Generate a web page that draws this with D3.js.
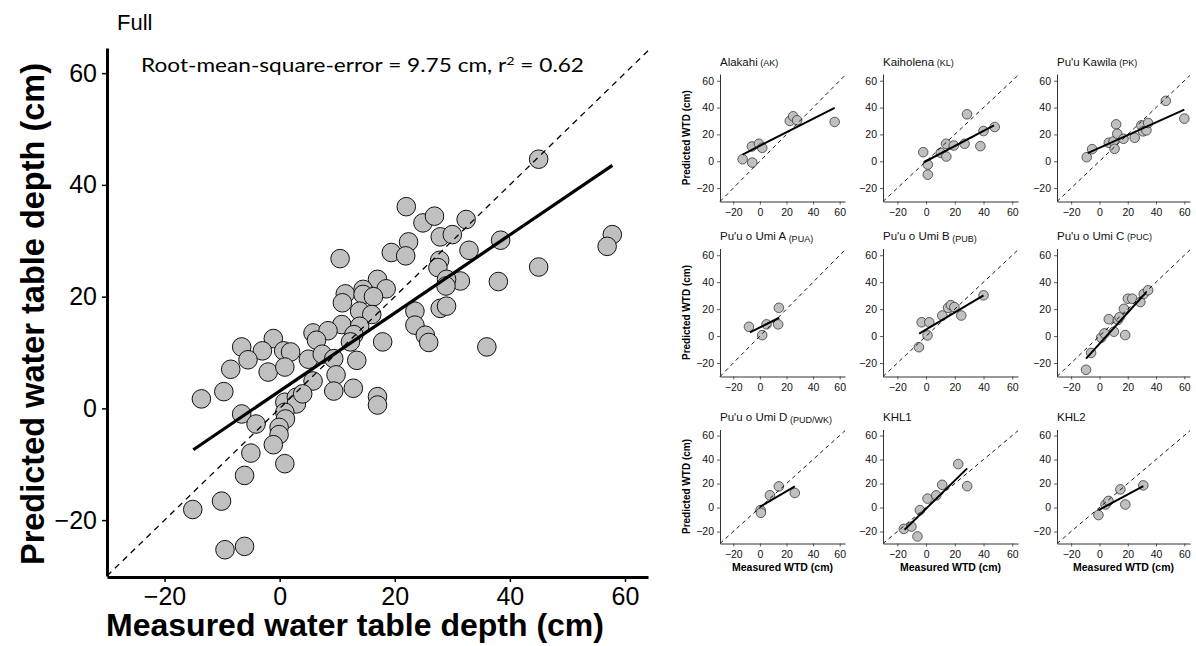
<!DOCTYPE html>
<html><head><meta charset="utf-8">
<script src="https://cdn.jsdelivr.net/npm/d3@7"></script>
<style>body{margin:0;background:#fff} svg{display:block}</style>
</head><body><svg id="c" width="1196" height="646"></svg>
<script>
// ---------- data ----------
const fullTicks = [-20, 0, 20, 40, 60];
const fullPoints = [
 [45.0,44.6],[22.0,36.1],[24.9,33.2],[26.9,34.4],[32.4,33.8],[27.9,30.7],[30.0,31.1],[22.4,29.8],
 [38.4,30.1],[57.8,31.1],[56.9,29.0],[10.5,26.8],[19.4,27.9],[21.9,27.3],[32.9,28.3],[27.8,26.5],
 [27.5,25.2],[45.0,25.3],[38.0,22.7],[31.4,22.8],[29.0,23.1],[28.9,21.9],[27.9,17.9],[29.0,18.3],
 [17.0,23.1],[14.5,21.3],[18.5,21.4],[11.4,20.5],[14.5,20.4],[16.3,20.0],[10.9,18.9],[13.9,17.4],
 [16.0,16.8],[23.5,17.4],[10.8,15.0],[23.5,14.9],[5.8,13.5],[8.4,13.9],[13.9,14.7],[12.9,13.2],
 [6.4,12.2],[12.3,11.9],[17.9,11.9],[25.3,13.1],[25.9,11.8],[36.0,11.0],[-6.6,11.0],[-1.1,12.5],
 [-3.0,10.3],[0.7,10.3],[1.9,10.1],[-5.5,8.7],[5.0,8.8],[7.4,9.7],[9.4,8.9],[13.4,8.6],
 [-8.5,7.0],[-2.0,6.5],[0.9,7.4],[5.8,4.9],[9.8,6.0],[9.4,3.1],[12.8,3.6],[-9.7,3.0],
 [-13.6,1.7],[17.0,2.1],[17.0,0.6],[0.9,1.1],[2.9,2.0],[2.9,0.8],[4.0,2.6],[0.9,-0.7],
 [1.0,-1.9],[-6.6,-1.0],[-4.1,-2.8],[-0.1,-3.4],[-0.1,-4.7],[-1.1,-6.5],[-5.0,-8.0],[0.9,-9.9],
 [-6.1,-12.0],[-10.1,-16.6],[-15.1,-18.1],[-9.5,-25.3],[-6.1,-24.7]
];
const fullFit = [[-15.0,-7.4],[57.8,43.5]];
const identityLine = [[-30,-30],[64,64]];

const panelTitles = ["Alakahi","Kaiholena","Pu'u Kawila","Pu'u o Umi A","Pu'u o Umi B","Pu'u o Umi C","Pu'u o Umi D","KHL1","KHL2"];
const panelCodes  = ["(AK)","(KL)","(PK)","(PUA)","(PUB)","(PUC)","(PUD/WK)","",""];
const panelTicks = [-20, 0, 20, 40, 60];

const akPoints = [[-13,1.5],[-6,11],[-5.75,-1],[-0.75,13],[1.75,10],[22.5,30],[25,33.5],[28,30.5],[56.25,29.25]];
const akFit = [[-13,5],[56.25,39.75]];
const klPoints = [[-2,6.75],[1.2,-2.5],[1.2,-10],[10.2,6.25],[13.9,13],[14.1,3.5],[19.3,11.75],[26.8,13],[28.5,35],[37.8,11.25],[40,22.5],[47.8,25.5]];
const klFit = [[-1.5,-0.75],[47.3,26.75]];
const pkPoints = [[-9,3],[-5.2,9],[6.6,13.75],[10,14.75],[10.7,9.25],[11.8,27.5],[12.6,20.5],[17,16.75],[24.9,17.5],[29.6,26.75],[30.8,22.25],[33.2,23],[34.4,28.5],[46.9,45],[60,31.75]];
const pkFit = [[-8.3,6],[60,38.5]];
const puaPoints = [[-8.25,6.9],[1.75,0.7],[5,8.7],[13.75,8.7],[14.25,21]];
const puaFit = [[-7.5,2.7],[14.5,13.6]];
const pubPoints = [[-5,-8.25],[-3.1,10.25],[1,0.5],[2.2,10.25],[11.3,15.25],[15.3,21],[17.3,23],[19.7,21.5],[24.5,15.25],[40,30.25]];
const pubFit = [[-4.8,1.75],[40,30.25]];
const pucPoints = [[-9.5,-25],[-5.9,-12.5],[1.2,-1.25],[3.6,2],[6.6,12.5],[10.2,3.25],[13,12],[14.2,14],[17.3,20.25],[18.2,0.75],[20.1,27.75],[23.2,27.75],[28.9,25.25],[31.3,31.25],[34.4,34]];
const pucFit = [[-9.5,-16.75],[33.2,32.7]];
const pudPoints = [[0.5,-2.2],[0.75,-4.4],[7.5,10.2],[14.25,17.6],[26.25,12.1]];
const pudFit = [[0,0.55],[26.25,17.6]];
const khl1Points = [[-15.5,-17.8],[-10.2,-15.9],[-6,-24.1],[-4.3,-2.2],[1,7.4],[7.1,10.1],[11.2,18.9],[22.4,36.2],[28.6,17.8]];
const khl1Fit = [[-15,-18.6],[28.6,32.6]];
const khl2Points = [[-0.7,-6.3],[4.3,2.5],[6.4,5.5],[14.8,15.1],[18.3,2.5],[31,18.4]];
const khl2Fit = [[-0.7,-2.2],[31,17.8]];

const panelPoints = [akPoints, klPoints, pkPoints, puaPoints, pubPoints, pucPoints, pudPoints, khl1Points, khl2Points];
const panelFits   = [akFit, klFit, pkFit, puaFit, pubFit, pucFit, pudFit, khl1Fit, khl2Fit];

// ---------- drawing ----------
const svg = d3.select("#c");
const FILL = "#c0c0c0";
const SANS = "'Liberation Sans', Arial, Helvetica, sans-serif";

// Main panel
{
  const x = d3.scaleLinear().domain([-30, 64]).range([107, 648]);
  const y = d3.scaleLinear().domain([-30, 64.5]).range([576, 48]);
  const g = svg.append("g");
  const line = d3.line().x(d => x(d[0])).y(d => y(d[1]));

  g.selectAll("circle").data(fullPoints).join("circle")
    .attr("cx", d => x(d[0])).attr("cy", d => y(d[1])).attr("r", 9.3)
    .attr("fill", FILL).attr("stroke", "#111").attr("stroke-width", 1);

  g.append("path").attr("d", line(identityLine)).attr("fill", "none")
    .attr("stroke", "#000").attr("stroke-width", 1.3).attr("stroke-dasharray", "6,5");
  g.append("path").attr("d", line(fullFit)).attr("fill", "none")
    .attr("stroke", "#000").attr("stroke-width", 3.2);

  const xa = g.append("g").attr("transform", "translate(0,577)")
    .call(d3.axisBottom(x).tickValues(fullTicks).tickSize(5).tickSizeOuter(0).tickPadding(5));
  const ya = g.append("g").attr("transform", "translate(107,0)")
    .call(d3.axisLeft(y).tickValues(fullTicks).tickSize(5).tickSizeOuter(0).tickPadding(5));
  [xa, ya].forEach(a => {
    a.select(".domain").attr("stroke-width", 3).attr("stroke", "#000");
    a.selectAll(".tick line").attr("stroke-width", 1.5);
    a.selectAll("text").attr("font-family", SANS).attr("font-size", 25).attr("fill", "#000");
  });

  svg.append("text").attr("x", 117).attr("y", 30).attr("font-family", SANS)
    .attr("font-size", 22).text("Full");

  const t = svg.append("text").attr("x", 141).attr("y", 72)
    .attr("font-family", "Lato, 'Open Sans', sans-serif").attr("font-size", 19)
    .attr("textLength", 443).attr("lengthAdjust", "spacingAndGlyphs");
  t.append("tspan").text("Root-mean-square-error = 9.75 cm, r");
  t.append("tspan").attr("font-size", 12).attr("dy", -7).text("2");
  t.append("tspan").attr("dy", 7).text(" = 0.62");

  svg.append("text").attr("x", 355).attr("y", 636).attr("text-anchor", "middle")
    .attr("font-family", SANS).attr("font-weight", "bold").attr("font-size", 32)
    .text("Measured water table depth (cm)");
  svg.append("text").attr("transform", "translate(44,314) rotate(-90)").attr("text-anchor", "middle")
    .attr("font-family", SANS).attr("font-weight", "bold").attr("font-size", 32.5)
    .text("Predicted water table depth (cm)");
}

// Small panels
const cols = [[720, 845], [883, 1018], [1057, 1190]];
const rows = [[74, 201.5], [248.5, 376.5], [429.5, 543.5]];
const codeDy = [0, 0, 0, 2, 2, 0, 2, 0, 0];

panelTitles.forEach((title, i) => {
  const c = cols[i % 3], r = rows[Math.floor(i / 3)];
  const x = d3.scaleLinear().domain([-30, 64]).range(c);
  const y = d3.scaleLinear().domain([-30, 65]).range([r[1], r[0]]);
  const g = svg.append("g");
  const line = d3.line().x(d => x(d[0])).y(d => y(d[1]));

  g.selectAll("circle").data(panelPoints[i]).join("circle")
    .attr("cx", d => x(d[0])).attr("cy", d => y(d[1])).attr("r", 4.8)
    .attr("fill", FILL).attr("stroke", "#222").attr("stroke-width", 0.7);
  g.append("path").attr("d", line(identityLine)).attr("fill", "none")
    .attr("stroke", "#000").attr("stroke-width", 0.9).attr("stroke-dasharray", "4,3.5");
  g.append("path").attr("d", line(panelFits[i])).attr("fill", "none")
    .attr("stroke", "#000").attr("stroke-width", 2);

  const xa = g.append("g").attr("transform", `translate(0,${r[1]})`)
    .call(d3.axisBottom(x).tickValues(panelTicks).tickSize(3).tickSizeOuter(0).tickPadding(4.5));
  const ya = g.append("g").attr("transform", `translate(${c[0]},0)`)
    .call(d3.axisLeft(y).tickValues(panelTicks).tickSize(3).tickSizeOuter(0).tickPadding(3));
  [xa, ya].forEach(a => {
    a.select(".domain").attr("stroke-width", 1).attr("stroke", "#333");
    a.selectAll(".tick line").attr("stroke", "#333").attr("stroke-width", 0.8);
    a.selectAll("text").attr("font-family", SANS).attr("font-size", 10.5).attr("fill", "#111");
  });

  const tt = svg.append("text").attr("x", c[0]).attr("y", r[0] - 8.5)
    .attr("font-family", SANS).attr("font-size", 11.5).attr("fill", "#111");
  tt.append("tspan").text(title);
  if (panelCodes[i]) tt.append("tspan").attr("font-size", 9).attr("dy", codeDy[i]).text(" " + panelCodes[i]);

  if (i % 3 === 0) {
    svg.append("text").attr("transform", `translate(690,${(r[0] + r[1]) / 2}) rotate(-90)`)
      .attr("text-anchor", "middle").attr("font-family", SANS).attr("font-weight", "bold")
      .attr("font-size", 10).text("Predicted WTD (cm)");
  }
  if (i >= 6) {
    svg.append("text").attr("x", (c[0] + c[1]) / 2).attr("y", 571)
      .attr("text-anchor", "middle").attr("font-family", SANS).attr("font-weight", "bold")
      .attr("font-size", 10.5).text("Measured WTD (cm)");
  }
});
</script></body></html>
